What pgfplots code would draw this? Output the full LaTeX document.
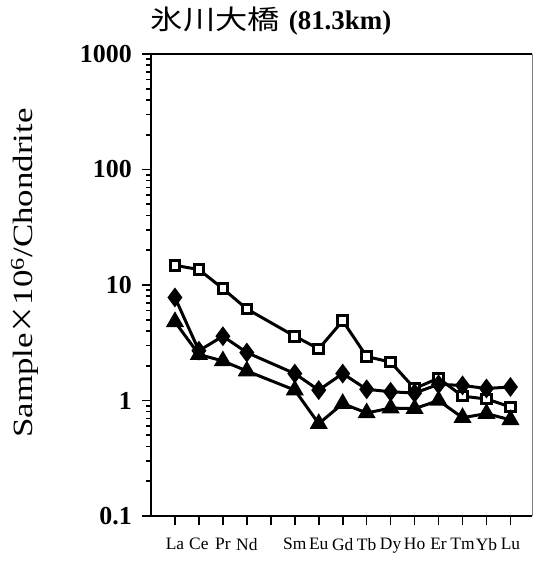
\documentclass[border=0pt]{standalone}
\usepackage{pgfplots}
\pgfplotsset{compat=1.18}
\usepackage{fontspec}
\setmainfont{Liberation Serif}
\newfontfamily\cjk{Noto Sans CJK JP}
\newfontfamily\cjkwide[FakeStretch=1.2]{Noto Sans CJK JP}
\newfontfamily\widefont[FakeStretch=1.25]{Liberation Serif}

% REE patterns normalised to chondrite (x: La=0 ... Lu=14, Pm=4 left empty)
\pgfplotsset{
  ree/.style={black, line width=3bp, mark options={solid, line width=1.6bp}},
}

\begin{document}
\begin{tikzpicture}[x=1bp,y=1bp]
\useasboundingbox (-151,-46) rectangle (383,516);
\begin{axis}[
  at={(0,0)}, anchor=south west,
  scale only axis, width=381bp, height=462bp,
  ymode=log, ymin=0.1, ymax=1000,
  xmin=-1, xmax=14.9,
  axis line style={draw=none},
  xtick={0,...,14},
  xticklabels={La,Ce,Pr,Nd,{},Sm,Eu,Gd,Tb,Dy,Ho,Er,Tm,Yb,Lu},
  ytick={0.1,1,10,100,1000},
  yticklabels={0.1,1,10,100,1000},
  tick align=outside,
  xtick pos=left, ytick pos=left,
  major tick length=9bp, minor tick length=5bp,
  every tick/.style={black, line width=1.6bp},
  xticklabel style={font=\fontsize{17.5}{17.5}\selectfont, inner sep=1bp, yshift=-12bp},
  yticklabel style={font=\fontsize{26}{26}\selectfont\bfseries, inner sep=2bp, xshift=-8bp},
  clip=false,
]
\addplot[ree, mark=square*, mark size=4.8bp, mark options={fill=white}] coordinates {
  (0,14.8) (1,13.6) (2,9.3) (3,6.2) (5,3.6) (6,2.8) (7,4.9)
  (8,2.4) (9,2.15) (10,1.27) (11,1.56) (12,1.09) (13,1.03) (14,0.88)
};
\addplot[ree, mark=diamond*, mark size=7.5bp, mark options={fill=black}] coordinates {
  (0,7.8) (1,2.7) (2,3.6) (3,2.6) (5,1.71) (6,1.23) (7,1.71)
  (8,1.25) (9,1.19) (10,1.16) (11,1.38) (12,1.35) (13,1.27) (14,1.31)
};
\addplot[ree, mark=triangle*, mark size=7.5bp, mark options={fill=black}] coordinates {
  (0,4.8) (1,2.5) (2,2.2) (3,1.8) (5,1.23) (6,0.63) (7,0.94)
  (8,0.78) (9,0.86) (10,0.85) (11,1.0) (12,0.71) (13,0.77) (14,0.68)
};
% frame: heavy left, bottom and top, light right
\draw[black, line width=2.6bp] (rel axis cs:0,1) -- (rel axis cs:0,0) -- (rel axis cs:1,0);
\draw[black, line width=2bp] (rel axis cs:0,1) -- (rel axis cs:1,1);
\draw[gray, line width=0.8bp] (rel axis cs:1,1) -- (rel axis cs:1,0);
\end{axis}
\node at (120,495) {{\cjkwide\fontsize{27}{27}\selectfont 氷川大橋}\hspace{9bp}{\fontsize{27}{27}\selectfont\bfseries (81.3km)}};
\node[rotate=90] at (-126,243) {\widefont\fontsize{28}{28}\selectfont Sample{\cjk ×}10\textsuperscript{6}/Chondrite};
\end{tikzpicture}
\end{document}
